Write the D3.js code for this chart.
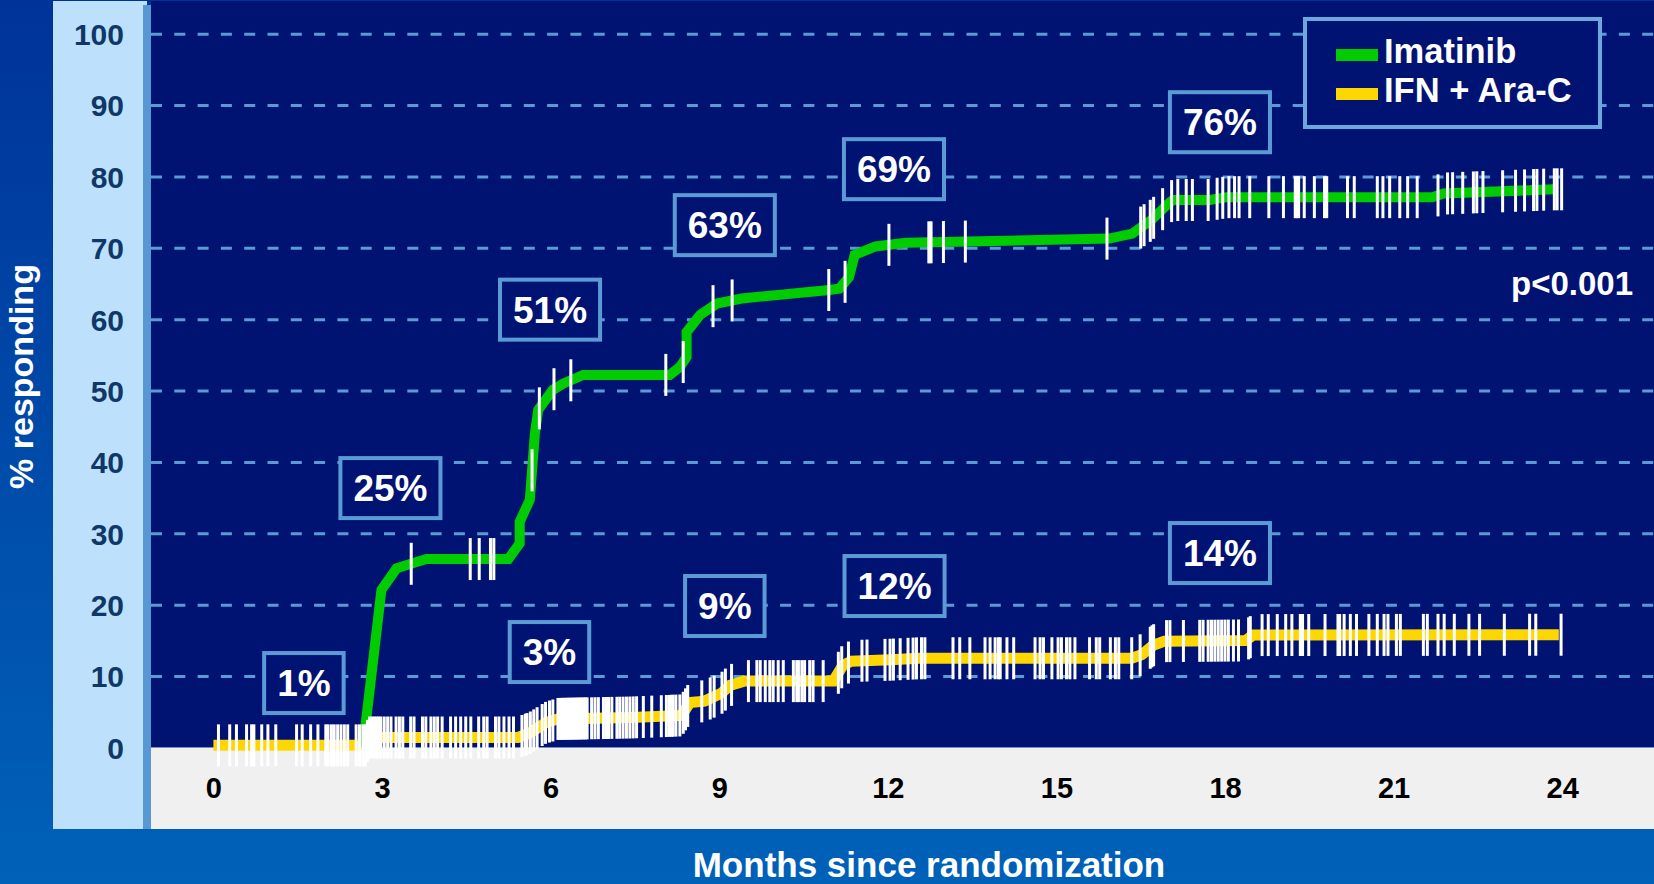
<!DOCTYPE html>
<html><head><meta charset="utf-8">
<script src="https://cdn.jsdelivr.net/npm/d3@7"></script>
<style>
html,body{margin:0;padding:0;background:#0050ad;overflow:hidden;}
svg{display:block;font-family:"Liberation Sans",Arial,Helvetica,sans-serif;font-weight:bold;}
</style>
</head><body>
<svg id="chart" width="1654" height="884"></svg>
<script>
// ---------------- data ----------------
const xTickValues = [0, 3, 6, 9, 12, 15, 18, 21, 24];
const yTickValues = [0, 10, 20, 30, 40, 50, 60, 70, 80, 90, 100];
const seriesNames = ["Imatinib", "IFN + Ara-C"];
const xTitle = "Months since randomization";
const yTitle = "% responding";
const pValueText = "p<0.001";

// cumulative response curves [month, % responding]
const imatinibCurve = [[2.66,0],[2.99,22.1],[3.26,25.1],[3.79,26.4],[5.25,26.4],[5.45,28.6],[5.45,31.6],[5.63,34.7],[5.72,44.0],[5.78,47.3],[6.04,50.1],[6.23,51.0],[6.58,52.2],[8.12,52.2],[8.30,53.3],[8.42,54.7],[8.42,58.2],[8.66,60.6],[8.96,62.2],[9.40,62.9],[10.96,64.1],[11.14,64.3],[11.31,65.9],[11.41,69.0],[11.78,70.2],[12.32,70.7],[15.94,71.3],[16.35,72.0],[16.69,73.9],[17.02,76.4],[17.08,76.7],[17.73,76.7],[18.03,77.1],[21.69,77.1],[21.89,77.6],[23.84,78.2]];
const ifnCurve = [[0,0.3],[2.7,0.3],[2.77,1.4],[5.42,1.4],[5.62,2.0],[5.92,3.5],[6.13,4.0],[7.43,4.2],[8.33,4.5],[8.48,6.3],[8.74,6.5],[9.04,7.6],[9.19,8.7],[9.44,9.3],[11.03,9.3],[11.2,11.5],[11.35,12.1],[12.05,12.3],[12.55,12.5],[16.34,12.5],[16.52,13.0],[16.72,14.3],[16.92,14.9],[18.37,15.0],[18.5,15.75],[23.94,15.8]];

// censoring marks (months)
const imatinibCensor = [3.52,4.57,4.73,4.93,4.99,5.67,5.80,6.06,6.36,8.05,8.36,8.89,9.23,10.95,11.24,12.02,12.73,12.77,12.99,13.38,15.90,16.50,16.56,16.67,16.73,16.89,17.05,17.16,17.31,17.42,17.70,17.86,17.96,18.07,18.17,18.25,18.44,18.78,19.04,19.25,19.28,19.31,19.41,19.59,19.77,19.81,20.18,20.30,20.71,20.81,20.93,21.11,21.25,21.42,21.79,21.96,22.05,22.23,22.42,22.48,22.59,22.94,23.17,23.33,23.49,23.55,23.67,23.86,23.91,23.99];
const ifnCensor = [0.09,0.29,0.41,0.59,0.68,0.72,0.86,0.97,1.11,1.48,1.58,1.73,1.86,2.0,2.04,2.10,2.15,2.21,2.27,2.33,2.39,2.54,2.60,2.66,2.70,2.74,2.78,2.82,2.86,2.90,2.94,2.98,3.04,3.10,3.16,3.25,3.31,3.37,3.51,3.57,3.72,3.78,3.87,3.93,3.99,4.07,4.22,4.31,4.40,4.49,4.58,4.72,4.81,4.87,5.02,5.08,5.17,5.26,5.34,5.49,5.55,5.58,5.64,5.70,5.76,5.85,5.91,5.98,6.04,6.13,6.17,6.20,6.23,6.26,6.29,6.32,6.35,6.38,6.41,6.44,6.47,6.50,6.53,6.56,6.59,6.62,6.65,6.73,6.79,6.85,6.94,6.99,7.03,7.09,7.18,7.23,7.29,7.35,7.41,7.47,7.53,7.65,7.80,7.97,8.06,8.11,8.15,8.18,8.23,8.30,8.36,8.40,8.44,8.69,8.84,8.91,9.05,9.11,9.22,9.52,9.67,9.73,9.82,9.90,9.96,10.05,10.14,10.32,10.38,10.41,10.47,10.52,10.61,10.67,10.85,11.12,11.18,11.30,11.54,11.63,11.95,12.04,12.10,12.22,12.36,12.45,12.51,12.60,12.66,13.16,13.28,13.46,13.73,13.82,13.91,13.97,14.00,14.12,14.24,14.62,14.71,14.77,14.92,15.03,15.09,15.18,15.24,15.33,15.59,15.71,15.77,15.96,16.05,16.11,16.34,16.49,16.67,16.70,16.73,16.96,17.02,17.26,17.55,17.61,17.70,17.76,17.82,17.88,17.94,18.00,18.06,18.15,18.24,18.42,18.45,18.66,18.77,18.93,19.08,19.19,19.34,19.38,19.49,19.78,20.01,20.04,20.12,20.23,20.34,20.56,20.71,20.83,20.90,21.05,21.12,21.53,21.60,21.79,21.90,22.08,22.34,22.53,22.97,23.42,23.53,23.98];

// boxed response-rate labels, anchored in data coordinates
const annotationLabels = ["1%", "3%", "25%", "51%", "9%", "63%", "69%", "12%", "76%", "14%"];
const annotationMonths = [1.61, 5.98, 3.15, 5.99, 9.10, 9.10, 12.11, 12.12, 17.91, 17.91];
const annotationValues = [9.03, 13.37, 36.34, 61.34, 19.82, 73.18, 81.02, 22.62, 87.6, 27.24];

// ---------------- drawing ----------------
const W = 1654, H = 884;
const svg = d3.select("#chart");
const C = {
  navy: "#001272", band: "#bde0fd", axisBar: "#5798d2", grid: "#5b9bd5",
  boxBorder: "#5b9bd5", legendBorder: "#6aa8de", green: "#00cc00", yellow: "#ffd700",
  gray: "#f0f0f0", yLabel: "#0f3768"
};

const x = d3.scaleLinear().domain([0, 24]).range([213.4, 213.4 + 24 * 56.2]);
const y = d3.scaleLinear().domain([0, 100]).range([747.5, 33.7]);

const defs = svg.append("defs");
const grad = defs.append("linearGradient").attr("id", "bg").attr("x1", 0).attr("y1", 0).attr("x2", 0).attr("y2", 1);
grad.append("stop").attr("offset", "0%").attr("stop-color", "#00339a");
grad.append("stop").attr("offset", "100%").attr("stop-color", "#0061b8");

svg.append("rect").attr("width", W).attr("height", H).attr("fill", "url(#bg)");
// light blue axis band
svg.append("rect").attr("x", 53).attr("y", 1).attr("width", 94).attr("height", 828).attr("fill", C.band);
// navy plot area and gray floor
const plotLeft = 151;
svg.append("rect").attr("x", plotLeft).attr("y", 1).attr("width", W - plotLeft).attr("height", y(0) - 1).attr("fill", C.navy);
svg.append("rect").attr("x", plotLeft).attr("y", y(0)).attr("width", W - plotLeft).attr("height", 829 - y(0)).attr("fill", C.gray);
// y axis bar
svg.append("rect").attr("x", 143).attr("y", 5).attr("width", 8).attr("height", 824).attr("fill", C.axisBar);

// gridlines
const grid = svg.append("g").attr("transform", `translate(${plotLeft},0)`)
  .call(d3.axisLeft(y).tickValues(yTickValues.filter(v => v > 0)).tickSize(-(W - plotLeft)).tickFormat(""));
grid.select(".domain").remove();
grid.selectAll(".tick line").attr("stroke", C.grid).attr("stroke-width", 3).attr("stroke-dasharray", "11,12.3");

// y tick labels
const yAx = svg.append("g").attr("transform", "translate(124,0)")
  .call(d3.axisLeft(y).tickValues(yTickValues).tickSize(0).tickPadding(0));
yAx.select(".domain").remove();
yAx.selectAll("text").attr("fill", C.yLabel).attr("font-size", 30).attr("font-weight", "bold")
  .attr("font-family", "Liberation Sans, Arial, sans-serif").attr("dy", "0.36em").attr("x", 0);

// x tick labels
const xAx = svg.append("g").attr("transform", "translate(0,787.5)")
  .call(d3.axisBottom(x).tickValues(xTickValues).tickSize(0).tickPadding(0));
xAx.select(".domain").remove();
xAx.selectAll("text").attr("fill", "#000").attr("font-size", 29).attr("font-weight", "bold")
  .attr("font-family", "Liberation Sans, Arial, sans-serif").attr("dy", "0.36em").attr("y", 0);

// axis titles
svg.append("text").attr("x", 929).attr("y", 877).attr("text-anchor", "middle")
  .attr("fill", "#fff").attr("font-size", 35).text(xTitle);
svg.append("text").attr("transform", "translate(33,376.5) rotate(-90)").attr("text-anchor", "middle")
  .attr("fill", "#fff").attr("font-size", 34).text(yTitle);

// curves
const line = d3.line().x(d => x(d[0])).y(d => y(d[1]));
svg.append("path").datum(ifnCurve).attr("d", line).attr("fill", "none")
  .attr("stroke", C.yellow).attr("stroke-width", 11).attr("stroke-linejoin", "miter");
svg.append("path").datum(imatinibCurve).attr("d", line).attr("fill", "none")
  .attr("stroke", C.green).attr("stroke-width", 10).attr("stroke-linejoin", "miter");

function valueAt(curve, m) {
  if (m <= curve[0][0]) return curve[0][1];
  if (m >= curve[curve.length - 1][0]) return curve[curve.length - 1][1];
  for (let i = 1; i < curve.length; i++) {
    const a = curve[i - 1], b = curve[i];
    if (m <= b[0]) {
      if (b[0] === a[0]) return b[1];
      return a[1] + (b[1] - a[1]) * (m - a[0]) / (b[0] - a[0]);
    }
  }
  return curve[curve.length - 1][1];
}
const tickHalf = 21;
function drawCensor(list, curve) {
  svg.append("g").selectAll("line").data(list).join("line")
    .attr("x1", d => x(d)).attr("x2", d => x(d))
    .attr("y1", d => y(valueAt(curve, d)) - tickHalf)
    .attr("y2", d => y(valueAt(curve, d)) + tickHalf)
    .attr("stroke", "#fff").attr("stroke-width", 3);
}
drawCensor(ifnCensor, ifnCurve);
drawCensor(imatinibCensor, imatinibCurve);

// annotation boxes
const ann = svg.append("g").selectAll("g").data(annotationLabels).join("g")
  .attr("transform", (d, i) => `translate(${x(annotationMonths[i])},${y(annotationValues[i])})`);
ann.append("rect").attr("fill", C.navy).attr("stroke", C.boxBorder).attr("stroke-width", 4);
ann.append("text").attr("text-anchor", "middle").attr("y", 13).attr("fill", "#fff")
  .attr("font-size", 37).text(d => d);
ann.each(function () {
  const g = d3.select(this);
  const w = g.select("text").node().getComputedTextLength() + 26;
  g.select("rect").attr("x", -w / 2).attr("y", -30).attr("width", w).attr("height", 60);
});

// legend
const lg = svg.append("g");
lg.append("rect").attr("x", 1305).attr("y", 19).attr("width", 295).attr("height", 108)
  .attr("fill", C.navy).attr("stroke", C.legendBorder).attr("stroke-width", 4);
const legendColors = [C.green, C.yellow];
const legendBase = [63, 102];
seriesNames.forEach((name, i) => {
  lg.append("rect").attr("x", 1336).attr("y", legendBase[i] - 14).attr("width", 42).attr("height", 12)
    .attr("fill", legendColors[i]);
  lg.append("text").attr("x", 1384).attr("y", legendBase[i]).attr("fill", "#fff")
    .attr("font-size", 34.5).text(name);
});

// p-value
svg.append("text").attr("x", 1633).attr("y", 295).attr("text-anchor", "end")
  .attr("fill", "#fff").attr("font-size", 33).text(pValueText);
</script>
</body></html>
